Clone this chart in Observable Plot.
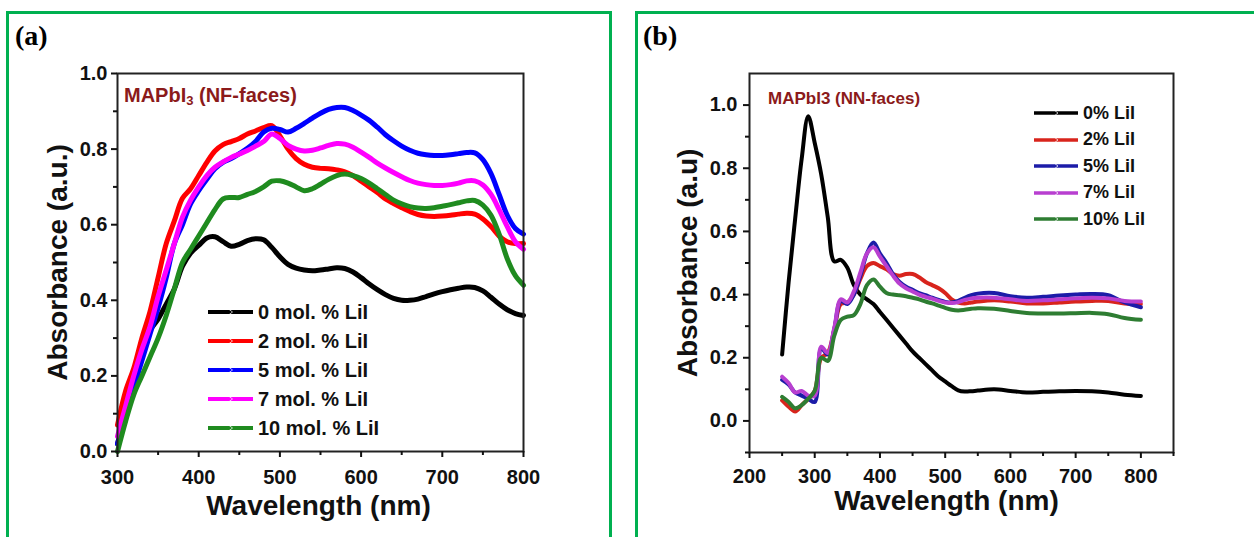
<!DOCTYPE html>
<html>
<head>
<meta charset="utf-8">
<script src="https://cdn.jsdelivr.net/npm/d3@7"></script>
<script src="https://cdn.jsdelivr.net/npm/@observablehq/plot@0.6"></script>
<style>
  html, body { margin: 0; padding: 0; background: #fff; }
  body { width: 1254px; height: 537px; position: relative; overflow: hidden; font-family: "Liberation Sans", Arial, sans-serif; }
  .panel { position: absolute; top: 0; }
  .border { position: absolute; border: 3px solid #00b050; box-sizing: border-box; z-index: 3; pointer-events: none; }
  .plabel { position: absolute; font-family: "Liberation Serif", "Times New Roman", serif; font-weight: bold; font-size: 28px; line-height: 1; z-index: 4; }
  .annot { position: absolute; font-weight: bold; color: #8b1a1a; line-height: 1; white-space: nowrap; z-index: 4; }
  .annot sub { font-size: 0.65em; vertical-align: -0.25em; }
  .legrow { position: absolute; display: flex; align-items: center; font-weight: bold; color: #111; white-space: nowrap; z-index: 4; }
  .legrow svg { display: block; }
</style>
</head>
<body>
<div class="panel" id="pa" style="left:0px"></div>
<div class="panel" id="pb" style="left:630px"></div>
<div class="border" style="left:6px; top:11px; width:606px; height:540px"></div>
<div class="border" style="left:635px; top:11px; width:640px; height:540px"></div>
<div class="plabel" style="left:15px; top:22px">(a)</div>
<div class="plabel" style="left:643px; top:22px">(b)</div>
<div class="annot" style="left:124px; top:85px; font-size:20px">MAPbI<sub>3</sub> (NF-faces)</div>
<div class="annot" style="left:768px; top:90px; font-size:17px">MAPbI3 (NN-faces)</div>
<div id="legA"></div>
<div id="legB"></div>
<script>
// ---------------- Panel (a) data ----------------
const wlA = [300,310,320,330,340,350,360,370,380,390,400,410,420,430,440,450,460,470,480,490,500,510,520,530,540,550,560,570,580,590,600,610,620,630,640,650,660,670,680,690,700,710,720,730,740,750,760,770,780,790,800];
const a0 = [0.02,0.10,0.17,0.25,0.32,0.35,0.39,0.43,0.49,0.525,0.545,0.565,0.568,0.555,0.543,0.548,0.558,0.563,0.56,0.54,0.515,0.495,0.485,0.48,0.478,0.48,0.483,0.486,0.484,0.475,0.46,0.443,0.428,0.415,0.405,0.40,0.40,0.403,0.41,0.417,0.423,0.428,0.432,0.435,0.434,0.425,0.408,0.39,0.375,0.365,0.36];
const a2 = [0.07,0.16,0.22,0.30,0.37,0.46,0.55,0.61,0.67,0.695,0.73,0.765,0.795,0.812,0.82,0.828,0.84,0.848,0.857,0.862,0.835,0.80,0.775,0.76,0.752,0.749,0.748,0.745,0.74,0.73,0.715,0.70,0.685,0.668,0.656,0.645,0.635,0.627,0.623,0.622,0.623,0.625,0.628,0.63,0.628,0.615,0.595,0.57,0.555,0.55,0.55];
const a5 = [0.02,0.10,0.17,0.24,0.31,0.38,0.46,0.55,0.60,0.655,0.69,0.72,0.748,0.765,0.775,0.788,0.802,0.82,0.845,0.855,0.852,0.845,0.855,0.868,0.882,0.895,0.905,0.91,0.91,0.902,0.89,0.876,0.858,0.838,0.822,0.808,0.797,0.789,0.785,0.783,0.783,0.785,0.788,0.791,0.79,0.772,0.735,0.68,0.625,0.59,0.575];
const a7 = [0.04,0.12,0.20,0.27,0.33,0.41,0.48,0.55,0.62,0.665,0.70,0.73,0.752,0.766,0.778,0.787,0.796,0.808,0.82,0.84,0.828,0.81,0.80,0.795,0.797,0.803,0.81,0.815,0.813,0.805,0.792,0.778,0.763,0.75,0.738,0.727,0.717,0.71,0.706,0.704,0.704,0.706,0.71,0.716,0.716,0.705,0.68,0.64,0.595,0.555,0.535];
const a10 = [0.00,0.08,0.15,0.20,0.25,0.30,0.36,0.43,0.50,0.535,0.57,0.605,0.64,0.668,0.672,0.672,0.68,0.688,0.70,0.715,0.716,0.71,0.70,0.69,0.695,0.707,0.72,0.73,0.734,0.73,0.722,0.71,0.695,0.68,0.665,0.655,0.648,0.644,0.643,0.645,0.649,0.653,0.658,0.663,0.664,0.652,0.625,0.575,0.51,0.465,0.44];
const namesA = ["0 mol. % LiI","2 mol. % LiI","5 mol. % LiI","7 mol. % LiI","10 mol. % LiI"];
const colorsA = ["#000000","#ff0000","#0000ff","#ff00ff","#1f8b1f"];
const xTicksA = [300,400,500,600,700,800];
const xMinorA = [350,450,550,650,750];
const yTicksA = [0,0.2,0.4,0.6,0.8,1.0];
const yMinorA = [0.1,0.3,0.5,0.7,0.9];

// ---------------- Panel (b) data ----------------
const wlB = [250,260,270,280,290,300,310,320,330,340,350,360,370,380,390,400,410,420,430,440,450,460,470,480,490,500,510,520,530,540,550,575,600,625,650,675,700,725,750,775,800];
const b0 = [0.21,0.44,0.64,0.83,0.965,0.88,0.78,0.645,0.505,0.51,0.485,0.43,0.40,0.385,0.37,0.345,0.32,0.295,0.27,0.245,0.22,0.20,0.18,0.16,0.14,0.125,0.11,0.097,0.093,0.094,0.096,0.10,0.095,0.09,0.092,0.094,0.095,0.094,0.09,0.083,0.079];
const b2 = [0.065,0.045,0.03,0.05,0.07,0.095,0.20,0.215,0.29,0.37,0.375,0.40,0.45,0.49,0.50,0.49,0.48,0.465,0.46,0.465,0.465,0.455,0.44,0.43,0.42,0.405,0.385,0.375,0.372,0.375,0.378,0.382,0.378,0.372,0.372,0.375,0.378,0.38,0.38,0.372,0.37];
const b5 = [0.13,0.115,0.09,0.08,0.07,0.06,0.23,0.21,0.29,0.38,0.37,0.40,0.46,0.53,0.565,0.53,0.50,0.465,0.44,0.425,0.415,0.405,0.398,0.39,0.383,0.377,0.375,0.38,0.39,0.398,0.403,0.405,0.395,0.39,0.393,0.397,0.40,0.402,0.398,0.375,0.36];
const b7 = [0.14,0.12,0.09,0.095,0.08,0.08,0.235,0.215,0.295,0.385,0.375,0.41,0.47,0.53,0.55,0.52,0.49,0.46,0.435,0.42,0.41,0.40,0.393,0.387,0.38,0.375,0.373,0.376,0.383,0.388,0.39,0.39,0.385,0.38,0.382,0.385,0.388,0.39,0.388,0.38,0.378];
const b10 = [0.076,0.06,0.04,0.05,0.07,0.095,0.20,0.19,0.27,0.32,0.33,0.335,0.37,0.43,0.448,0.425,0.405,0.40,0.398,0.395,0.39,0.385,0.378,0.372,0.365,0.358,0.352,0.35,0.352,0.355,0.357,0.355,0.348,0.342,0.34,0.34,0.341,0.342,0.338,0.326,0.32];
const namesB = ["0% LiI","2% LiI","5% LiI","7% LiI","10% LiI"];
const colorsB = ["#000000","#d8241c","#1c1ca8","#b83fd0","#2e7d32"];
const xTicksB = [200,300,400,500,600,700,800];
const xMinorB = [250,350,450,550,650,750,850];
const yTicksB = [0,0.2,0.4,0.6,0.8,1.0];
const yMinorB = [-0.1,0.1,0.3,0.5,0.7,0.9];

function tidy(wl, seriesVals, names) {
  const rows = [];
  seriesVals.forEach((vals, i) => vals.forEach((v, j) => rows.push({wl: wl[j], a: v, s: names[i]})));
  return rows;
}

const baseStyle = {fontFamily: "'Liberation Sans', Arial, sans-serif", fontWeight: "bold", fontSize: "20px", background: "transparent", color: "#111", overflow: "visible"};

function makePlot(cfg) {
  const data = tidy(cfg.wl, cfg.vals, cfg.names);
  return Plot.plot({
    width: 620, height: 537,
    marginLeft: cfg.ml, marginRight: cfg.mr, marginTop: 73, marginBottom: cfg.mb,
    style: baseStyle,
    x: {domain: cfg.xdom},
    y: {domain: cfg.ydom},
    color: {domain: cfg.names, range: cfg.colors},
    marks: [
      ...cfg.names.map((n, i) => Plot.line(data.filter(d => d.s === n), {x: "wl", y: "a", stroke: cfg.colors[i], strokeWidth: cfg.sw, curve: "catmull-rom", strokeLinejoin: "round", strokeLinecap: "round"})),
      Plot.frame({stroke: "#222", strokeWidth: 2}),
      Plot.axisX({ticks: cfg.xt, tickSize: 6, tickPadding: cfg.xpad, tickFormat: d => d, label: null, strokeWidth: 2, fontSize: 20}),
      Plot.axisX({ticks: cfg.xm, tickSize: 4, text: null, label: null, strokeWidth: 2}),
      Plot.axisY({ticks: cfg.yt, tickSize: 6, tickPadding: cfg.ypad, tickFormat: d3.format(".1f"), label: null, strokeWidth: 2, fontSize: 20}),
      Plot.axisY({ticks: cfg.ym, tickSize: 4, text: null, label: null, strokeWidth: 2}),
      Plot.text([cfg.ytitle], {text: d => d, frameAnchor: "left", textAnchor: "middle", lineAnchor: "middle", dx: cfg.ytdx, rotate: -90, fontSize: 28, fontWeight: "bold", fill: "#111"}),
      Plot.text([cfg.xtitle], {text: d => d, frameAnchor: "bottom", textAnchor: "middle", lineAnchor: "middle", dx: cfg.xtdx, dy: cfg.xtdy, fontSize: 28, fontWeight: "bold", fill: "#111"})
    ]
  });
}

document.getElementById("pa").append(makePlot({
  wl: wlA, vals: [a0, a2, a5, a7, a10], names: namesA, colors: colorsA,
  ml: 117, mr: 97, mb: 86, xdom: [300, 800], ydom: [0, 1],
  xt: xTicksA, xm: xMinorA, yt: yTicksA, ym: yMinorA, xpad: 12, ypad: 4, sw: 5,
  ytitle: "Absorbance (a.u.)", xtitle: "Wavelength (nm)", ytdx: -59, xtdx: -2, xtdy: 55
}));

document.getElementById("pb").append(makePlot({
  wl: wlB, vals: [b0, b2, b5, b7, b10], names: namesB, colors: colorsB,
  ml: 119, mr: 77, mb: 85, xdom: [200, 850], ydom: [-0.1, 1.1],
  xt: xTicksB, xm: xMinorB, yt: yTicksB, ym: yMinorB, xpad: 10, ypad: 6, sw: 4,
  ytitle: "Absorbance (a.u)", xtitle: "Wavelength (nm)", ytdx: -61, xtdx: -15, xtdy: 49
}));

function legend(el, names, colors, left, top0, step, swW, fs, lw) {
  const host = document.getElementById(el);
  names.forEach((n, i) => {
    const row = document.createElement("div");
    row.className = "legrow";
    row.style.left = left + "px";
    row.style.top = (top0 + i * step - 11) + "px";
    row.style.height = "22px";
    row.style.fontSize = fs + "px";
    const c = colors[i];
    row.innerHTML = `<svg width="${swW}" height="10"><line x1="0" y1="5" x2="${swW}" y2="5" stroke="${c}" stroke-width="${lw}"/><path d="M${swW/2-2},2 L${swW/2+2},5 L${swW/2-2},8" fill="none" stroke="#ffffff" stroke-opacity="0.7" stroke-width="1"/></svg><span style="margin-left:5px">${n}</span>`;
    host.append(row);
  });
}
legend("legA", namesA, colorsA, 208, 312, 29, 45, 20, 4);
legend("legB", namesB, colorsB, 1034, 113, 26.5, 44, 18, 3.5);
</script>
</body>
</html>
